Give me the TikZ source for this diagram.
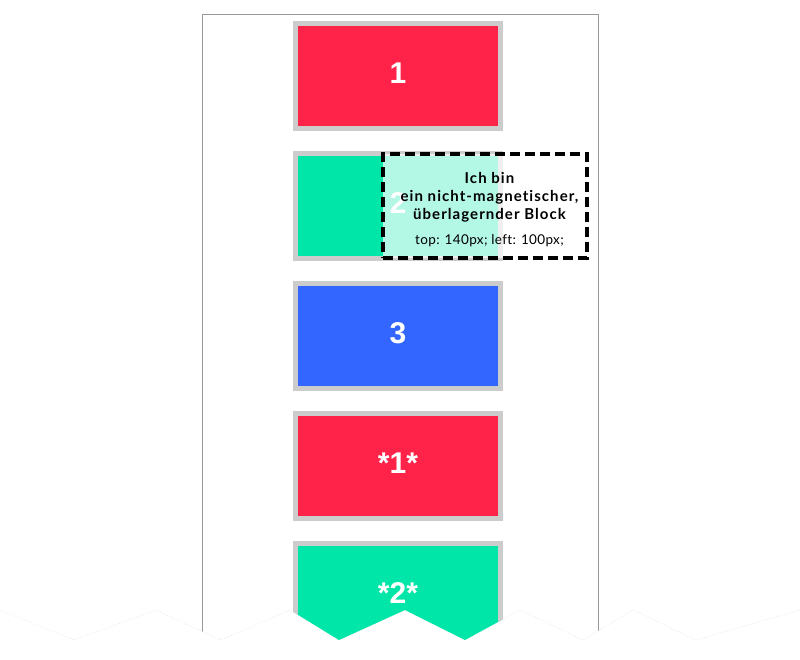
\documentclass[tikz,border=0pt]{standalone}
\usepackage{fontspec}
\setmainfont{Lato}[Ligatures=NoCommon, LetterSpace=2.6, BoldFeatures={LetterSpace=7}]
\newfontfamily\numfont{Liberation Sans}
\usetikzlibrary{positioning}

\definecolor{blockred}{HTML}{FF2249}
\definecolor{blockgreen}{HTML}{00E6A8}
\definecolor{blockblue}{HTML}{3366FF}
\definecolor{bordergray}{HTML}{CCCCCC}
\definecolor{framegray}{HTML}{999999}

% torn lower edge, from right to left
\def\tearline{(800,610) -- (696,640) -- (633,610) -- (583,640) -- (520,610) -- (465,640) -- (405,610) -- (339,640) -- (290,610) -- (221,640) -- (156,610) -- (74,640) -- (0,610)}

\begin{document}
\begin{tikzpicture}[x=1pt, y=-1pt, node distance=130pt,
  block/.style={draw=bordergray, line width=5pt, inner sep=0pt, outer sep=0pt,
    minimum width=205pt, minimum height=105pt, text=white, text depth=5pt,
    font=\numfont\bfseries\fontsize{30}{36}\selectfont}]
  \useasboundingbox (0,0) rectangle (800,660);
  \draw[black!15, dotted, line width=0.6pt] \tearline;
  \begin{scope}
    \clip (0,0) -- (800,0) -- \tearline -- cycle;
    \draw[framegray] (202,650) |- (598,14) -- (598,650);
    \node[block, fill=blockred] (b1) at (398,76) {1};
    \node[block, fill=blockgreen] (b2) [below of=b1] {2};
    \node[block, fill=blockblue] (b3) [below of=b2] {3};
    \node[block, fill=blockred] (b4) [below of=b3] {*1*};
    \node[block, fill=blockgreen] (b5) [below of=b4] {*2*};
  \end{scope}
  \node[draw, line width=4pt, dash pattern=on 10pt off 5pt, fill=white, fill opacity=0.7,
    minimum width=204pt, minimum height=104pt, inner sep=0pt] (overlay) at (484.5,206.5) {};
  \node[align=center, font=\bfseries\fontsize{15}{18}\selectfont] (note) at (489.5,210)
    {Ich bin\\ein nicht-magnetischer,\\überlagernder Block\\[7pt]{\mdseries\fontsize{13.5}{16}\selectfont top: 140px; left: 100px;}};
\end{tikzpicture}
\end{document}
